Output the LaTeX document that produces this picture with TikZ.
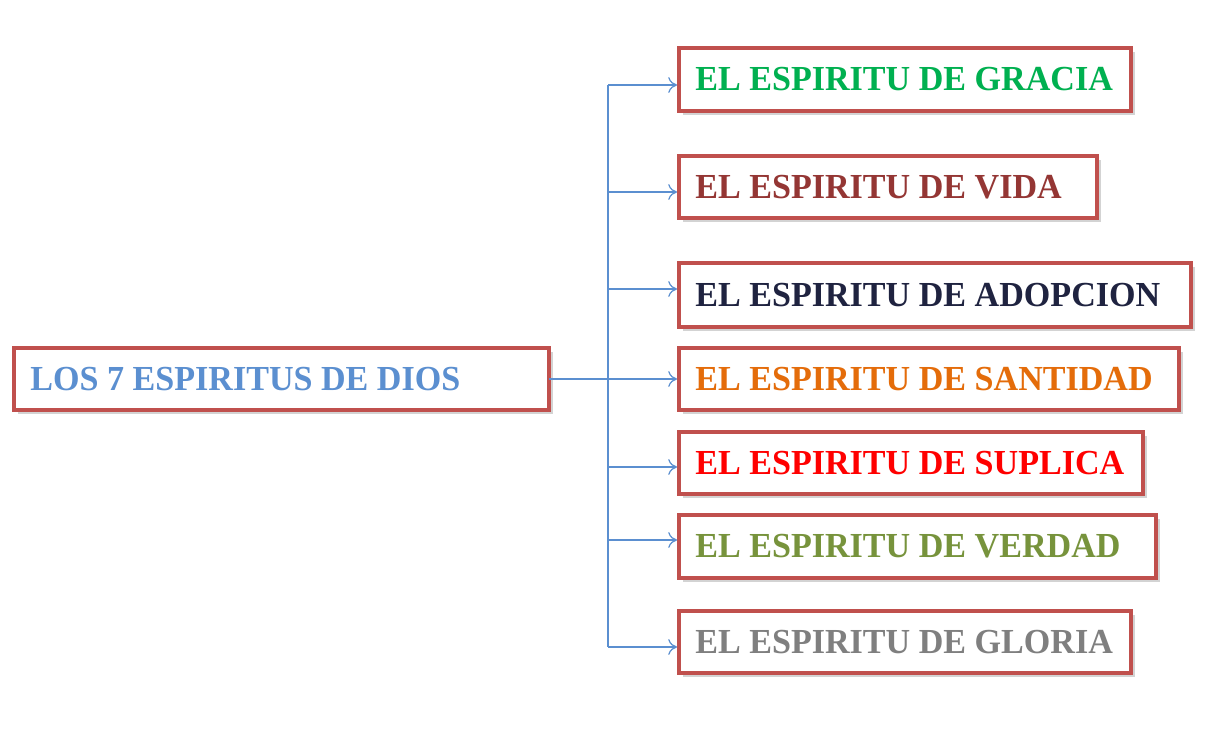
\documentclass[tikz,border=0pt]{standalone}
\usepackage{fontspec}
\setmainfont{Liberation Serif}
\usetikzlibrary{shadows,arrows.meta}
\definecolor{bred}{HTML}{C0504D}
\definecolor{conn}{HTML}{5B8FD0}
\begin{document}
\begin{tikzpicture}[x=0.02cm,y=-0.02cm,
  box/.style={draw=bred,line width=2.2pt,fill=white,drop shadow={opacity=0.35,shadow xshift=2pt,shadow yshift=-2pt}},
  lbl/.style={anchor=west,inner sep=0pt,font=\fontsize{20}{22}\selectfont\bfseries},
  con/.style={draw=conn,line width=0.7pt,-{To[length=5pt,width=9pt]}}]
\useasboundingbox (0,0) rectangle (1221,728);
\newcommand{\sq}[1]{\scalebox{0.97}[1]{#1}}
\path[box] (14,348) rectangle (549,410);
\node[lbl,text=conn] (m) at (30,379) {\sq{LOS 7 ESPIRITUS DE DIOS}};
\coordinate (mr) at (549,379);
\coordinate (t) at (608,379);
\coordinate (top) at (608,85);
\coordinate (bot) at (608,647);
\draw[conn,line width=0.7pt] (mr) -- (t) (top) -- (bot);
\foreach \n/\l/\tp/\r/\bt/\ay/\c/\txt in {
 a/679/48/1131/111/85/00B050/GRACIA,
 b/679/156/1097/218/192/943634/VIDA,
 c/679/263/1191/327/289/1F2340/ADOPCION,
 d/679/348/1179/410/379/E46C0A/SANTIDAD,
 e/679/432/1143/494/467/FF0000/SUPLICA,
 f/679/515/1156/578/540/77933C/VERDAD,
 g/679/611/1131/673/647/7F7F7F/GLORIA}{
  \definecolor{tc}{HTML}{\c}
  \path[box] (\l,\tp) rectangle (\r,\bt);
  \node[lbl,text=tc] (\n) at (695,{(\tp+\bt)/2}) {\sq{EL ESPIRITU DE \txt}};
  \coordinate (s\n) at (608,\ay);
  \coordinate (e\n) at (677,\ay);
  \draw[con] (s\n) -- (e\n);
}
\end{tikzpicture}
\end{document}
